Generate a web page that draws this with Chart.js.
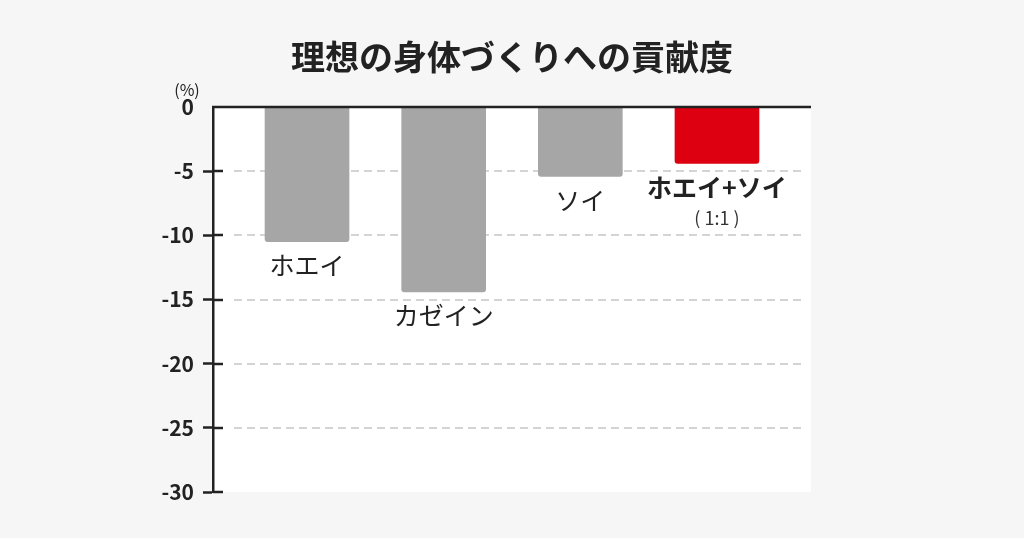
<!DOCTYPE html>
<html lang="ja">
<head>
  <meta charset="UTF-8">
  <title>理想の身体づくりへの貢献度</title>
  <script src="https://cdn.jsdelivr.net/npm/chart.js"></script>
  <style>
    html, body { margin: 0; padding: 0; background: #f6f6f6; }
    #wrap { width: 1024px; height: 538px; }
  </style>
</head>
<body>
  <div id="wrap"><canvas id="chart"></canvas></div>

  <script>
    const titleText = "理想の身体づくりへの貢献度";
    const unitText = "(%)";
    const categories = ["ホエイ", "カゼイン", "ソイ", "ホエイ+ソイ"];
    const subLabels = ["", "", "", "( 1:1 )"];
    const values = [-10.5, -14.4, -5.4, -4.4];
    const barColors = ["#a6a6a6", "#a6a6a6", "#a6a6a6", "#dc0011"];
    const highlightIndex = 3;
    const yTicks = [0, -5, -10, -15, -20, -25, -30];

    const FONT = '"Noto Sans CJK JP", "Noto Sans", sans-serif';
    const INK = "#222";

    // white plot box, dashed lines, inner ticks, top rule and the text around the chart
    const decor = {
      id: "decor",
      beforeDraw(chart) {
        const { ctx, chartArea: a } = chart;
        const y = chart.scales.y;
        ctx.save();
        ctx.fillStyle = "#fff";
        ctx.fillRect(a.left, a.top, a.right - a.left, a.bottom - a.top);
        ctx.strokeStyle = "#d4d4d4";
        ctx.lineWidth = 2;
        ctx.setLineDash([8, 5]);
        yTicks.forEach(v => {
          if (v === 0 || v === -30) return;
          const py = Math.round(y.getPixelForValue(v));
          ctx.beginPath();
          ctx.moveTo(a.left + 21, py);
          ctx.lineTo(a.right - 9, py);
          ctx.stroke();
        });
        ctx.restore();
      },
      afterDatasetsDraw(chart) {
        const { ctx, chartArea: a } = chart;
        const y = chart.scales.y;
        ctx.save();
        ctx.strokeStyle = INK;
        ctx.lineWidth = 2.5;
        // inner half of the tick marks
        yTicks.forEach(v => {
          if (v === 0) return;
          const py = Math.round(y.getPixelForValue(v));
          ctx.beginPath();
          ctx.moveTo(a.left, py);
          ctx.lineTo(a.left + 10, py);
          ctx.stroke();
        });
        // top rule at 0
        const p0 = y.getPixelForValue(0);
        ctx.beginPath();
        ctx.moveTo(a.left - 1, p0);
        ctx.lineTo(a.right, p0);
        ctx.stroke();

        // category labels under each bar end
        ctx.fillStyle = INK;
        ctx.textAlign = "center";
        ctx.textBaseline = "middle";
        chart.getDatasetMeta(0).data.forEach((bar, i) => {
          ctx.font = (i === highlightIndex ? "bold " : "") + "25px " + FONT;
          ctx.fillText(categories[i], bar.x, bar.y + 24);
          if (subLabels[i]) {
            ctx.font = "18px " + FONT;
            ctx.fillStyle = "#333";
            ctx.fillText(subLabels[i], bar.x, bar.y + 55);
            ctx.fillStyle = INK;
          }
        });
        ctx.restore();
      },
      afterDraw(chart) {
        const { ctx, chartArea: a } = chart;
        ctx.save();
        ctx.fillStyle = INK;
        ctx.textAlign = "center";
        ctx.textBaseline = "middle";
        ctx.font = "bold 34px " + FONT;
        ctx.fillText(titleText, 512, 57);
        ctx.font = "16px " + FONT;
        ctx.fillText(unitText, a.left - 26, a.top - 17);
        ctx.restore();
      }
    };

    new Chart(document.getElementById("chart"), {
      type: "bar",
      data: {
        datasets: [{
          data: categories.map((c, i) => ({ x: i, y: values[i] })),
          backgroundColor: barColors,
          borderWidth: 0,
          borderRadius: 3,
          barThickness: 84
        }]
      },
      options: {
        responsive: true,
        maintainAspectRatio: false,
        animation: false,
        layout: { padding: { left: 0, right: 213, top: 107, bottom: 46 } },
        plugins: {
          legend: { display: false },
          tooltip: { enabled: false },
          title: { display: false }
        },
        scales: {
          x: {
            type: "linear",
            min: -0.688,
            max: 3.688,
            offset: false,
            display: false
          },
          y: {
            min: -30,
            max: 0,
            afterBuildTicks: scale => { scale.ticks = yTicks.map(v => ({ value: v })); },
            afterFit: scale => { scale.width = 213; },
            border: { display: true, color: INK, width: 2.5 },
            grid: {
              drawOnChartArea: false,
              drawTicks: true,
              tickLength: 10,
              tickWidth: 2.5,
              tickColor: c => (c.tick && c.tick.value === 0 ? "rgba(0,0,0,0)" : INK)
            },
            ticks: {
              padding: 9,
              color: INK,
              font: { family: FONT, size: 21, weight: "bold" },
              callback: v => String(v)
            }
          }
        }
      },
      plugins: [decor]
    });
  </script>
</body>
</html>
